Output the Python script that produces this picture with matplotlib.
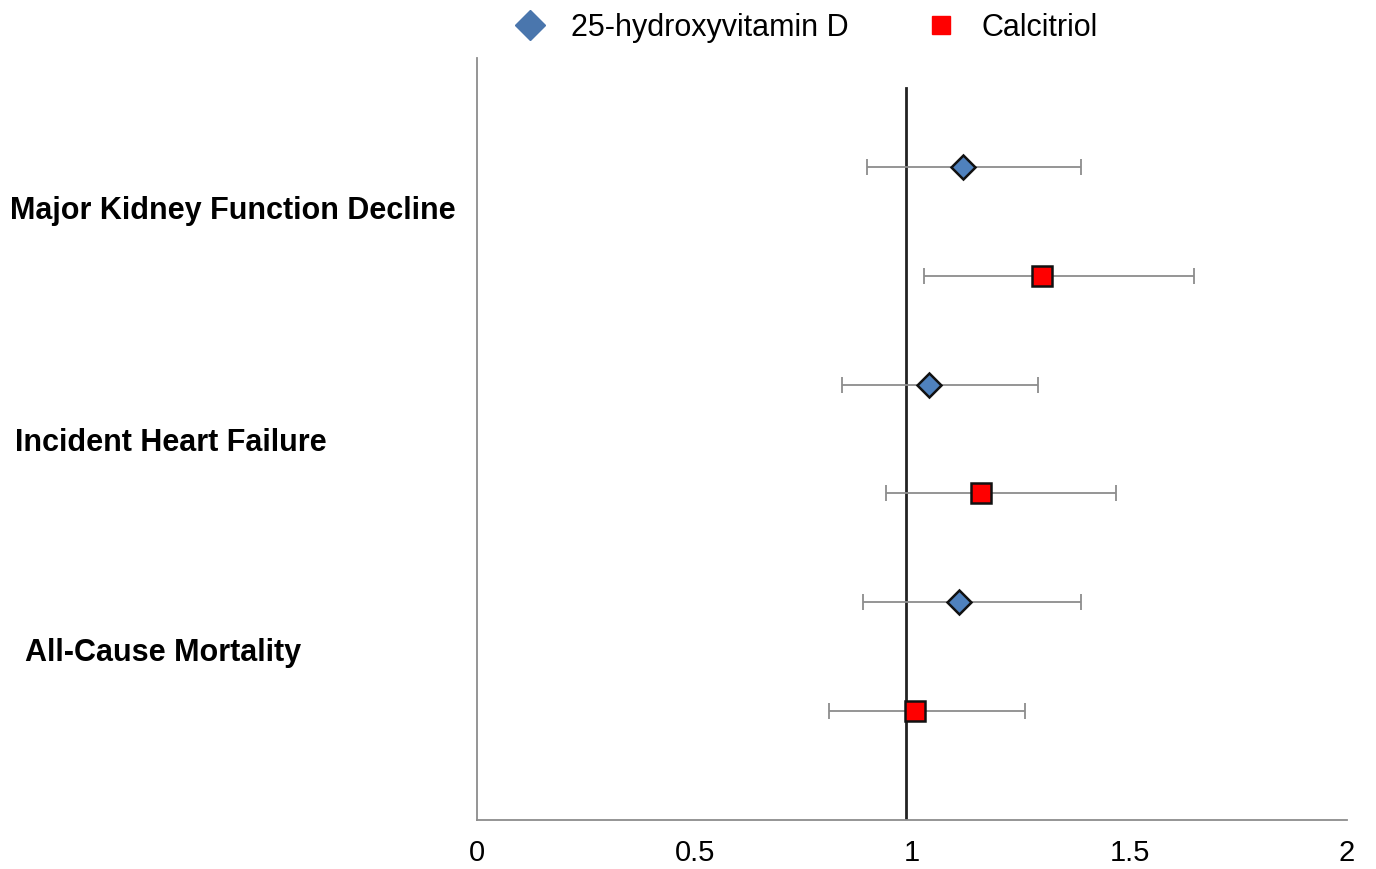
import numpy as np
import matplotlib.pyplot as plt

plt.rcParams['font.family'] = ['Liberation Sans', 'DejaVu Sans']

# outcomes, top to bottom
outcomes = ['Major Kidney Function Decline', 'Incident Heart Failure', 'All-Cause Mortality']

# hazard ratios and 95% CI per outcome
vitd_hr = [1.117, 1.039, 1.108]
vitd_lo = [0.897, 0.839, 0.887]
vitd_hi = [1.389, 1.290, 1.389]

calc_hr = [1.299, 1.159, 1.007]
calc_lo = [1.028, 0.940, 0.809]
calc_hi = [1.648, 1.469, 1.260]

ref_x = 0.985

vitd_y = np.array([6, 4, 2])
calc_y = np.array([5, 3, 1])

fig = plt.figure(figsize=(13.76, 8.69), dpi=100)
ax = fig.add_axes([0.3467, 0.0564, 0.6323, 0.8769])

vitd_hr = np.array(vitd_hr)
calc_hr = np.array(calc_hr)
ax.errorbar(vitd_hr, vitd_y,
            xerr=[vitd_hr - np.array(vitd_lo), np.array(vitd_hi) - vitd_hr],
            fmt='none', ecolor='#8c8c8c', elinewidth=1.3, capsize=6, capthick=1.3, zorder=2)
ax.errorbar(calc_hr, calc_y,
            xerr=[calc_hr - np.array(calc_lo), np.array(calc_hi) - calc_hr],
            fmt='none', ecolor='#8c8c8c', elinewidth=1.3, capsize=6, capthick=1.3, zorder=2)

ax.plot([ref_x, ref_x], [0, 6.72], color='#222222', lw=2, zorder=1)

ax.plot(vitd_hr, vitd_y, 'D', ms=12.5, mfc='#4f81bd', mec='#111111', mew=1.8, ls='none', zorder=3)
ax.plot(calc_hr, calc_y, 's', ms=15, mfc='#ff0000', mec='#111111', mew=1.8, ls='none', zorder=3)

ax.set_xlim(0, 2)
ax.set_ylim(0, 7)
ax.set_xticks([0, 0.5, 1, 1.5, 2])
ax.set_xticklabels(['0', '0.5', '1', '1.5', '2'])
ax.tick_params(axis='x', length=0, pad=14, labelsize=21)
ax.set_yticks([])
for s in ['top', 'right']:
    ax.spines[s].set_visible(False)
for s in ['left', 'bottom']:
    ax.spines[s].set_color('#8c8c8c')
    ax.spines[s].set_linewidth(1.3)

# category labels, left of the axis
label_pos = [(10, 211), (15, 443), (25, 653)]
for name, (px, py) in zip(outcomes, label_pos):
    fig.text(px / 1376, 1 - py / 869, name, fontsize=22, fontweight='bold',
             ha='left', va='center')

h1 = plt.Line2D([], [], marker='D', ms=15, mfc='#4a76ad', mec='#4a76ad', ls='none')
h2 = plt.Line2D([], [], marker='s', ms=13, mfc='#ff0000', mec='#ff0000', ls='none')
fig.legend([h1, h2], ['25-hydroxyvitamin D', 'Calcitriol'], loc='center',
           bbox_to_anchor=(0.585, 0.968), ncol=2, frameon=False, fontsize=22,
           columnspacing=2.4, handletextpad=0.75, handlelength=1.2)

fig.savefig('out.png', dpi=100)
